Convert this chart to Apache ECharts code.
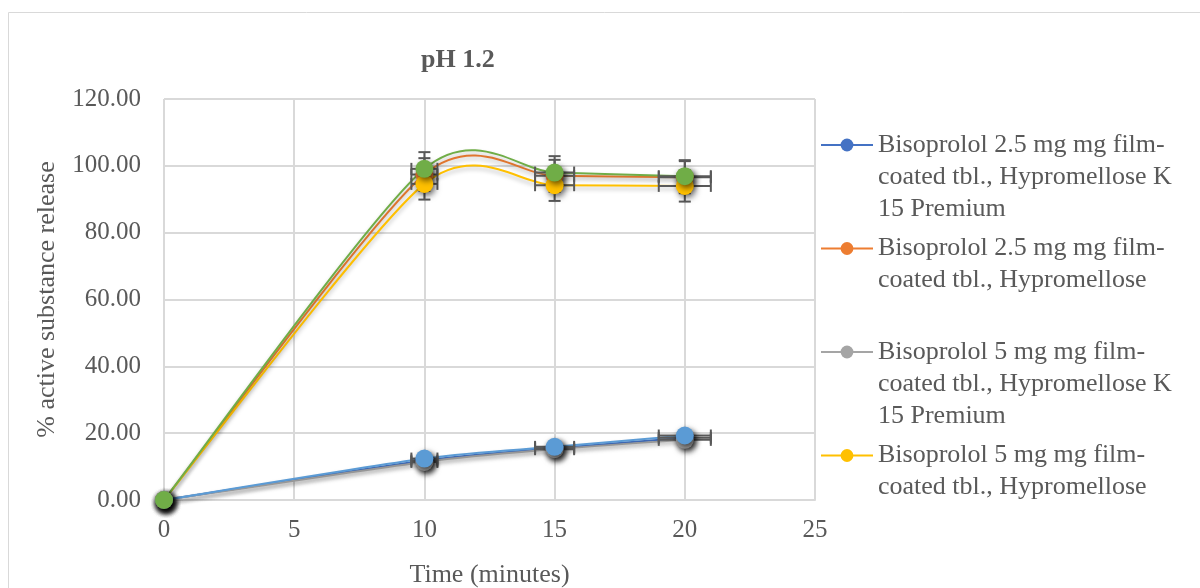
<!DOCTYPE html>
<html>
<head>
<meta charset="utf-8">
<script src="https://cdn.jsdelivr.net/npm/echarts@6/dist/echarts.min.js"></script>
<style>
  html, body { margin: 0; padding: 0; background: #fff; }
  #chart { width: 1200px; height: 588px; }
</style>
</head>
<body>
<div id="chart"></div>
<script>
// time points (minutes)
const times = [0, 10, 15, 20];
const timeErr = [0, 0.5, 0.75, 1.0];

const names = [
  "Bisoprolol 2.5 mg mg film-coated tbl., Hypromellose K 15 Premium",
  "Bisoprolol 2.5 mg mg film-coated tbl., Hypromellose",
  "Bisoprolol 5 mg mg film-coated tbl., Hypromellose K 15 Premium",
  "Bisoprolol 5 mg mg film-coated tbl., Hypromellose",
  "Series 5",
  "Series 6",
];
const legendLines = [
  ["Bisoprolol 2.5 mg mg film-", "coated tbl., Hypromellose K", "15 Premium"],
  ["Bisoprolol 2.5 mg mg film-", "coated tbl., Hypromellose"],
  ["Bisoprolol 5 mg mg film-", "coated tbl., Hypromellose K", "15 Premium"],
  ["Bisoprolol 5 mg mg film-", "coated tbl., Hypromellose"],
];
const colors = ["#4472C4", "#ED7D31", "#A5A5A5", "#FFC000", "#5B9BD5", "#70AD47"];

// % released
const release25K15 = [0, 11.8, 15.5, 18.6];
const release25 = [0, 97.4, 97.0, 96.6];
const release5K15 = [0, 11.4, 15.2, 18.0];
const release5 = [0, 94.6, 94.2, 94.0];
const releaseS5 = [0, 12.4, 15.9, 19.3];
const releaseS6 = [0, 99.1, 98.0, 96.9];

const err25K15 = [0, 0.6, 0.8, 0.9];
const err25 = [0, 4.9, 4.8, 4.8];
const err5K15 = [0, 0.6, 0.8, 0.9];
const err5 = [0, 4.7, 4.7, 4.7];
const errS5 = [0, 0.6, 0.8, 1.0];
const errS6 = [0, 5.0, 4.9, 4.8];

const values = [release25K15, release25, release5K15, release5, releaseS5, releaseS6];
const errors = [err25K15, err25, err5K15, err5, errS5, errS6];

const font = "Liberation Serif";
const textColor = "#595959";
const gridColor = "#D9D9D9";

function legendText(name) {
  const i = names.indexOf(name);
  const lines = legendLines[i].slice();
  while (lines.length < 3) lines.push("");
  // pad so the icon sits next to the first line
  return ["", ""].concat(lines).join("\n");
}

function renderErr(params, api) {
  const x = api.value(0), y = api.value(1);
  const ex = api.value(2), ey = api.value(3);
  const cap = 6;
  const style = { stroke: "#595959", lineWidth: 2 };
  const children = [];
  if (ex > 0) {
    const l = api.coord([x - ex, y]), r = api.coord([x + ex, y]);
    children.push({ type: "line", shape: { x1: l[0], y1: l[1], x2: r[0], y2: r[1] }, style });
    children.push({ type: "line", shape: { x1: l[0], y1: l[1] - cap, x2: l[0], y2: l[1] + cap }, style });
    children.push({ type: "line", shape: { x1: r[0], y1: r[1] - cap, x2: r[0], y2: r[1] + cap }, style });
  }
  if (ey > 0) {
    const t = api.coord([x, y + ey]), b = api.coord([x, y - ey]);
    children.push({ type: "line", shape: { x1: t[0], y1: t[1], x2: b[0], y2: b[1] }, style });
    children.push({ type: "line", shape: { x1: t[0] - cap, y1: t[1], x2: t[0] + cap, y2: t[1] }, style });
    children.push({ type: "line", shape: { x1: b[0] - cap, y1: b[1], x2: b[0] + cap, y2: b[1] }, style });
  }
  return { type: "group", children };
}

// Excel-style smoothed line (Catmull-Rom -> bezier), drawn once per series
const TENSION = 1 / 7.5;
function smoothRenderer(color) {
  return function (params, api) {
    if (params.dataIndexInside !== 0) return null;
    const n = params.dataInsideLength;
    const pts = [];
    for (let i = 0; i < n; i++) pts.push(api.coord([api.value(0, i), api.value(1, i)]));
    const p = (i) => pts[Math.max(0, Math.min(n - 1, i))];
    let d = "M" + pts[0][0] + " " + pts[0][1];
    for (let i = 0; i < n - 1; i++) {
      const p0 = p(i - 1), p1 = p(i), p2 = p(i + 1), p3 = p(i + 2);
      const c1 = [p1[0] + (p2[0] - p0[0]) * TENSION, p1[1] + (p2[1] - p0[1]) * TENSION];
      const c2 = [p2[0] - (p3[0] - p1[0]) * TENSION, p2[1] - (p3[1] - p1[1]) * TENSION];
      d += " C" + c1.join(" ") + " " + c2.join(" ") + " " + p2.join(" ");
    }
    return {
      type: "path",
      shape: { pathData: d },
      style: {
        fill: "none", stroke: color, lineWidth: 2,
        shadowColor: "rgba(0,0,0,0.25)", shadowBlur: 4, shadowOffsetY: 3,
      },
    };
  };
}

const errData = [];
values.forEach((vals, s) => {
  vals.forEach((v, i) => errData.push([times[i], v, timeErr[i], errors[s][i]]));
});

const curveSeries = values.map((vals, s) => ({
  type: "custom",
  name: names[s] + " curve",
  renderItem: smoothRenderer(colors[s]),
  data: vals.map((v, i) => [times[i], v]),
  z: 2,
  silent: true,
}));

const markerSeries = values.map((vals, s) => ({
  name: names[s],
  type: "line",
  symbol: "circle",
  symbolSize: 18,
  z: 4 + s,
  data: vals.map((v, i) => [times[i], v]),
  lineStyle: { color: colors[s], width: 2, opacity: 0 },
  itemStyle: {
    color: colors[s],
    shadowColor: "rgba(0,0,0,0.6)", shadowBlur: 6, shadowOffsetX: 2, shadowOffsetY: 3,
  },
}));

const chart = echarts.init(document.getElementById("chart"));
chart.setOption({
  animation: false,
  color: colors,
  graphic: [{
    type: "rect",
    shape: { x: 8.5, y: 12.5, width: 1200, height: 600 },
    style: { fill: "none", stroke: gridColor, lineWidth: 1 },
    silent: true,
  }],
  title: {
    text: "pH 1.2",
    left: 416,
    top: 42,
    textStyle: { fontFamily: font, fontSize: 26, fontWeight: "bold", color: textColor },
  },
  legend: {
    orient: "vertical",
    left: 820,
    top: 65,
    padding: 0,
    itemGap: -56.5,
    itemWidth: 52,
    itemHeight: 16,
    data: names.slice(0, 4),
    formatter: legendText,
    itemStyle: { shadowBlur: 0, shadowOffsetX: 0, shadowOffsetY: 0 },
    lineStyle: { width: 2, opacity: 1, shadowBlur: 0, shadowOffsetY: 0 },
    textStyle: { fontFamily: font, fontSize: 26, lineHeight: 32, color: textColor },
  },
  grid: { left: 164, right: 385, top: 99, bottom: 88, outerBoundsMode: "none" },
  xAxis: {
    type: "value",
    min: 0, max: 25, interval: 5,
    name: "Time (minutes)",
    nameLocation: "middle",
    nameGap: 62,
    nameTextStyle: { fontFamily: font, fontSize: 26, color: textColor },
    axisLine: { lineStyle: { color: gridColor, width: 2 } },
    axisTick: { show: false },
    axisLabel: { fontFamily: font, fontSize: 25, color: textColor, margin: 18 },
    splitLine: { lineStyle: { color: gridColor, width: 2 } },
  },
  yAxis: {
    type: "value",
    min: 0, max: 120, interval: 20,
    name: "% active substance release",
    nameLocation: "middle",
    nameGap: 104,
    nameTextStyle: { fontFamily: font, fontSize: 26, color: textColor },
    axisLine: { show: false },
    axisTick: { show: false },
    axisLabel: { fontFamily: font, fontSize: 25, color: textColor, margin: 23,
      formatter: (v) => v.toFixed(2) },
    splitLine: { lineStyle: { color: gridColor, width: 2 } },
  },
  series: curveSeries.concat([
    {
      type: "custom",
      name: "errors",
      renderItem: renderErr,
      data: errData,
      z: 3,
      silent: true,
    },
  ]).concat(markerSeries),
});
</script>
</body>
</html>
